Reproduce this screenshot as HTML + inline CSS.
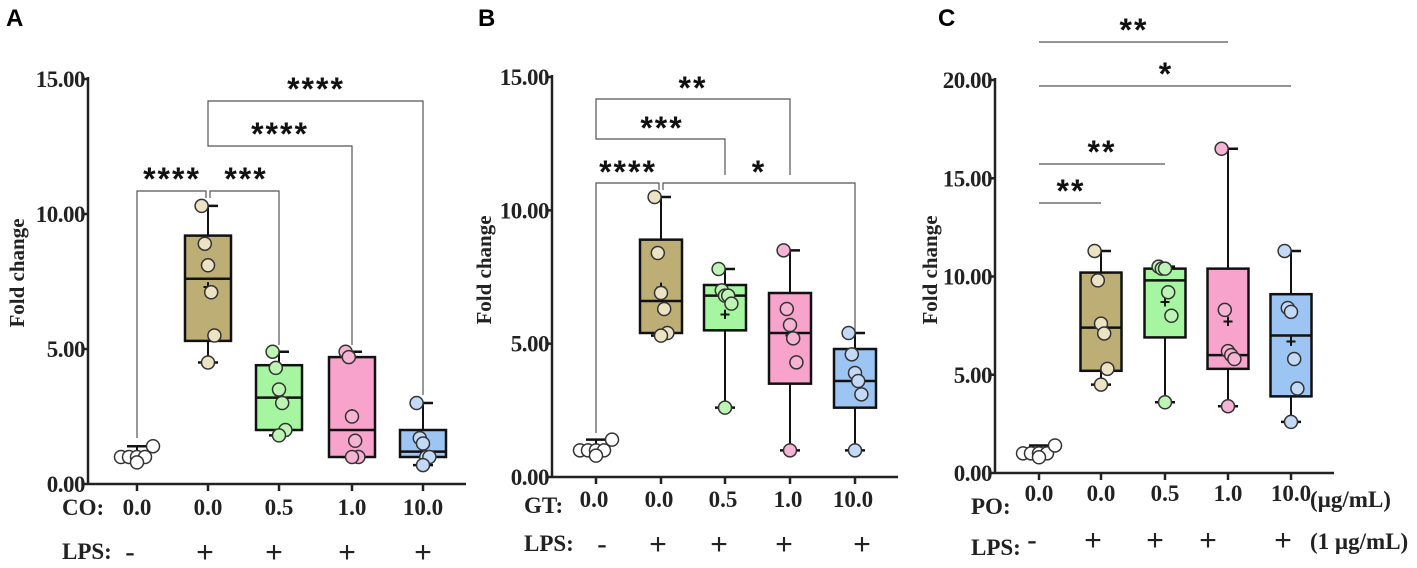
<!DOCTYPE html>
<html><head><meta charset="utf-8"><style>
body{margin:0;background:#fff;}
svg{display:block;font-family:"Liberation Serif",serif;}
</style></head><body>
<svg id="fig" width="1417" height="568" viewBox="0 0 1417 568"></svg>
<script>
// ---- Panel A data ----
const catsA = ["0.0","0.0","0.5","1.0","10.0"];
const lpsA = ["-","+","+","+","+"];
const boxA = [[0.8,0.9,1.0,1.1,1.4,1.0],[4.5,5.3,7.6,9.2,10.3,7.3],[1.8,2.0,3.2,4.4,4.9,3.3],[1.0,1.0,2.0,4.7,4.9,2.6],[0.7,1.0,1.2,2.0,3.0,1.5]]; // min,q1,med,q3,max,mean
const ptsA = [[1.0,1.0,1.0,1.0,1.4,0.8],[10.3,8.9,8.1,7.1,5.5,4.5],[4.9,4.3,3.5,3.0,2.0,1.8],[4.9,4.7,2.5,1.6,1.0,1.0],[3.0,1.7,1.5,1.0,1.0,0.7]];
const ticksA = [0,5,10,15];
// ---- Panel B data ----
const catsB = ["0.0","0.0","0.5","1.0","10.0"];
const lpsB = ["-","+","+","+","+"];
const boxB = [[0.8,0.9,1.0,1.1,1.4,1.0],[5.3,5.4,6.6,8.9,10.5,7.1],[2.6,5.5,6.8,7.2,7.8,6.1],[1.0,3.5,5.4,6.9,8.5,5.3],[1.0,2.6,3.6,4.8,5.4,3.6]];
const ptsB = [[1.0,1.0,1.0,1.0,1.4,0.8],[10.5,8.4,6.9,6.3,5.4,5.3],[7.8,7.0,6.8,6.8,6.5,2.6],[8.5,6.3,5.7,5.2,4.3,1.0],[5.4,4.6,3.9,3.6,3.1,1.0]];
const ticksB = [0,5,10,15];
// ---- Panel C data ----
const catsC = ["0.0","0.0","0.5","1.0","10.0"];
const lpsC = ["-","+","+","+","+"];
const boxC = [[0.8,0.9,1.0,1.1,1.4,1.0],[4.5,5.2,7.4,10.2,11.3,7.6],[3.6,6.9,9.8,10.4,10.5,8.7],[3.4,5.3,6.0,10.4,16.5,7.7],[2.6,3.9,7.0,9.1,11.3,6.7]];
const ptsC = [[1.0,1.0,1.0,1.0,1.4,0.8],[11.3,9.8,7.6,7.1,5.3,4.5],[10.5,10.4,10.4,9.2,8.0,3.6],[16.5,8.3,6.2,6.0,5.8,3.4],[11.3,8.4,8.2,5.8,4.3,2.6]];
const ticksC = [0,5,10,15,20];

const fills=["#ffffff","#bcae74","#a6f5a0","#f7a3cb","#9dc5f3"];
const ptFills=["#ffffff","#ebe3c3","#bdf5b5","#f6b3d3","#c3daf6"];
const NS="http://www.w3.org/2000/svg";
const svg=document.getElementById('fig');
function el(t,a,p){const e=document.createElementNS(NS,t);for(const k in a)e.setAttribute(k,a[k]);(p||svg).appendChild(e);return e;}
function txt(s,a,p){const e=el('text',a,p);e.textContent=s;return e;}

function panel(cfg){
  const g=el('g',{});
  
  
  const ymax=cfg.ticks[cfg.ticks.length-1];
  const Y=v=>cfg.y0-(v/ymax)*(cfg.y0-cfg.yTop);
  const X=i=>cfg.xs[i];
  el('line',{x1:cfg.ax,y1:cfg.yTop-2,x2:cfg.ax,y2:cfg.y0,stroke:'#222','stroke-width':2.5},g);
  el('line',{x1:cfg.ax,y1:cfg.y0,x2:cfg.xEnd,y2:cfg.y0,stroke:'#222','stroke-width':2.5},g);
  cfg.ticks.forEach(t=>{
    el('line',{x1:cfg.ax-6,y1:Y(t),x2:cfg.ax,y2:Y(t),stroke:'#222','stroke-width':2.5},g);
    const l=txt(t.toFixed(2),{x:cfg.ax-3,y:Y(t)+8,'text-anchor':'end','font-size':23,'font-weight':'bold',fill:'#222','letter-spacing':-0.5},g);
    
    
  });
  cfg.xs.forEach(x=>el('line',{x1:x,y1:cfg.y0,x2:x,y2:cfg.y0+7,stroke:'#222','stroke-width':2.5},g));
  const yl=txt('Fold change',{transform:`translate(${cfg.ylx},${cfg.yly}) rotate(-90)`,'text-anchor':'middle','font-size':21,'font-weight':'bold',fill:'#222'},g);
  
  
  const pl=txt(cfg.id,{x:cfg.lx,y:26,'font-size':24,'font-weight':'bold','font-family':'Liberation Sans, sans-serif',fill:'#000'},g);
  
  
  cfg.brackets.forEach(b=>{
    const bg=el('g',{},g);
    
    
    let d=`M${b.x1},${b.d1} V${b.y} H${b.x2}`;
    if(b.d2!=null) d+=` V${b.d2}`;
    el('path',{d,fill:'none',stroke:'#555','stroke-width':1.2},bg);
    txt(b.s,{x:b.tx,y:b.ty+6,'text-anchor':'middle','font-size':32,'font-weight':'bold','font-family':'Liberation Sans, sans-serif',fill:'#111','letter-spacing':2},bg);
  });
  const jit=[-16,-8,0,8,16,0];
  cfg.box.forEach((b,i)=>{
    const x=X(i),hw=cfg.hw;
    const bg=el('g',{},g);
    
    
    el('line',{x1:x,y1:Y(b[0]),x2:x,y2:Y(b[4]),stroke:'#111','stroke-width':2},bg);
    el('line',{x1:x-10,y1:Y(b[0]),x2:x+10,y2:Y(b[0]),stroke:'#111','stroke-width':2.5},bg);
    el('line',{x1:x-10,y1:Y(b[4]),x2:x+10,y2:Y(b[4]),stroke:'#111','stroke-width':2.5},bg);
    if(i>0) el('rect',{x:x-hw,y:Y(b[3]),width:2*hw,height:Y(b[1])-Y(b[3]),fill:fills[i],stroke:'#111','stroke-width':2.5},bg);
    el('line',{x1:x-(i>0?hw:10),y1:Y(b[2]),x2:x+(i>0?hw:10),y2:Y(b[2]),stroke:'#111','stroke-width':2.5},bg);
    if(i>0) txt('+',{x:x,y:Y(b[5])+6,'text-anchor':'middle','font-size':18,'font-weight':'bold','font-family':'Liberation Sans, sans-serif',fill:'#111'},bg);
    cfg.pts[i].forEach((v,k)=>{
      const c=el('circle',{cx:x+(i===0?jit[k]:jit[k]*0.4),cy:Y(v),r:6.5,fill:ptFills[i],stroke:'#333','stroke-width':1.5},bg);
      
      
    });
    const cl=txt(cfg.cats[i],{x:x+(cfg.catDx||0),y:cfg.catY,'text-anchor':'middle','font-size':23,'font-weight':'bold',fill:'#222'},g);
    
    
    const lp=txt(cfg.lps[i],{x:x+cfg.lpsDx[i],y:cfg.lpsY,'text-anchor':'middle','font-size':30,'font-family':'Liberation Sans, sans-serif',fill:'#222'},g);
    
    
  });
  cfg.rowLabels.forEach(r=>{
    const t=txt(r.s,{x:r.x,y:r.y,'font-size':23,'font-weight':'bold',fill:'#222'},g);
    
    
  });
}

panel({id:'A',ax:88,yTop:79,y0:484,xEnd:466,xs:[137,208,279,352,423],hw:23,ticks:ticksA,box:boxA,pts:ptsA,cats:catsA,lps:lpsA,
  ylx:24,yly:273,lx:6,catY:515,lpsY:562,lpsDx:[-7,-3,-5,-5,0],
  rowLabels:[{s:'CO:',x:62,y:515},{s:'LPS:',x:62,y:559}],
  brackets:[{x1:137,d1:438,y:191,x2:206,d2:198,s:'****',tx:172,ty:184},
            {x1:210,d1:198,y:191,x2:279,d2:345,s:'***',tx:246,ty:184},
            {x1:208,d1:139,y:146,x2:352,d2:345,s:'****',tx:280,ty:139},
            {x1:208,d1:139,y:101,x2:423,d2:395,s:'****',tx:316,ty:94}]});

panel({id:'B',ax:552,yTop:77,y0:477,xEnd:898,xs:[596,661,725,790,855],hw:21,ticks:ticksB,box:boxB,pts:ptsB,cats:catsB,lps:lpsB,
  ylx:491,yly:270,lx:478,catY:507,catDx:-2,lpsY:554,lpsDx:[6,-3,-6,-6,7],
  rowLabels:[{s:'GT:',x:524,y:513},{s:'LPS:',x:524,y:551}],
  brackets:[{x1:596,d1:433,y:183,x2:659,d2:190,s:'****',tx:628,ty:177},
            {x1:663,d1:190,y:183,x2:855,d2:375,s:'*',tx:759,ty:177},
            {x1:596,d1:131,y:139,x2:725,d2:175,s:'***',tx:662,ty:133},
            {x1:596,d1:131,y:99,x2:790,d2:175,s:'**',tx:693,ty:93}]});

panel({id:'C',ax:995,yTop:80,y0:473,xEnd:1334,xs:[1039,1101,1165,1228,1291],hw:20.5,ticks:ticksC,box:boxC,pts:ptsC,cats:catsC,lps:lpsC,
  ylx:937,yly:270,lx:938,catY:501,lpsY:550,lpsDx:[-7,-8,-10,-20,-8],
  rowLabels:[{s:'PO:',x:971,y:514},{s:'LPS:',x:971,y:555},{s:'(µg/mL)',x:1310,y:507},{s:'(1 µg/mL)',x:1310,y:549}],
  brackets:[{x1:1039,d1:203,y:203,x2:1101,d2:null,s:'**',tx:1071,ty:196},
            {x1:1039,d1:164,y:164,x2:1165,d2:null,s:'**',tx:1102,ty:157},
            {x1:1039,d1:86,y:86,x2:1291,d2:null,s:'*',tx:1166,ty:79},
            {x1:1039,d1:42,y:42,x2:1228,d2:null,s:'**',tx:1134,ty:35}]});
</script>
</body></html>
